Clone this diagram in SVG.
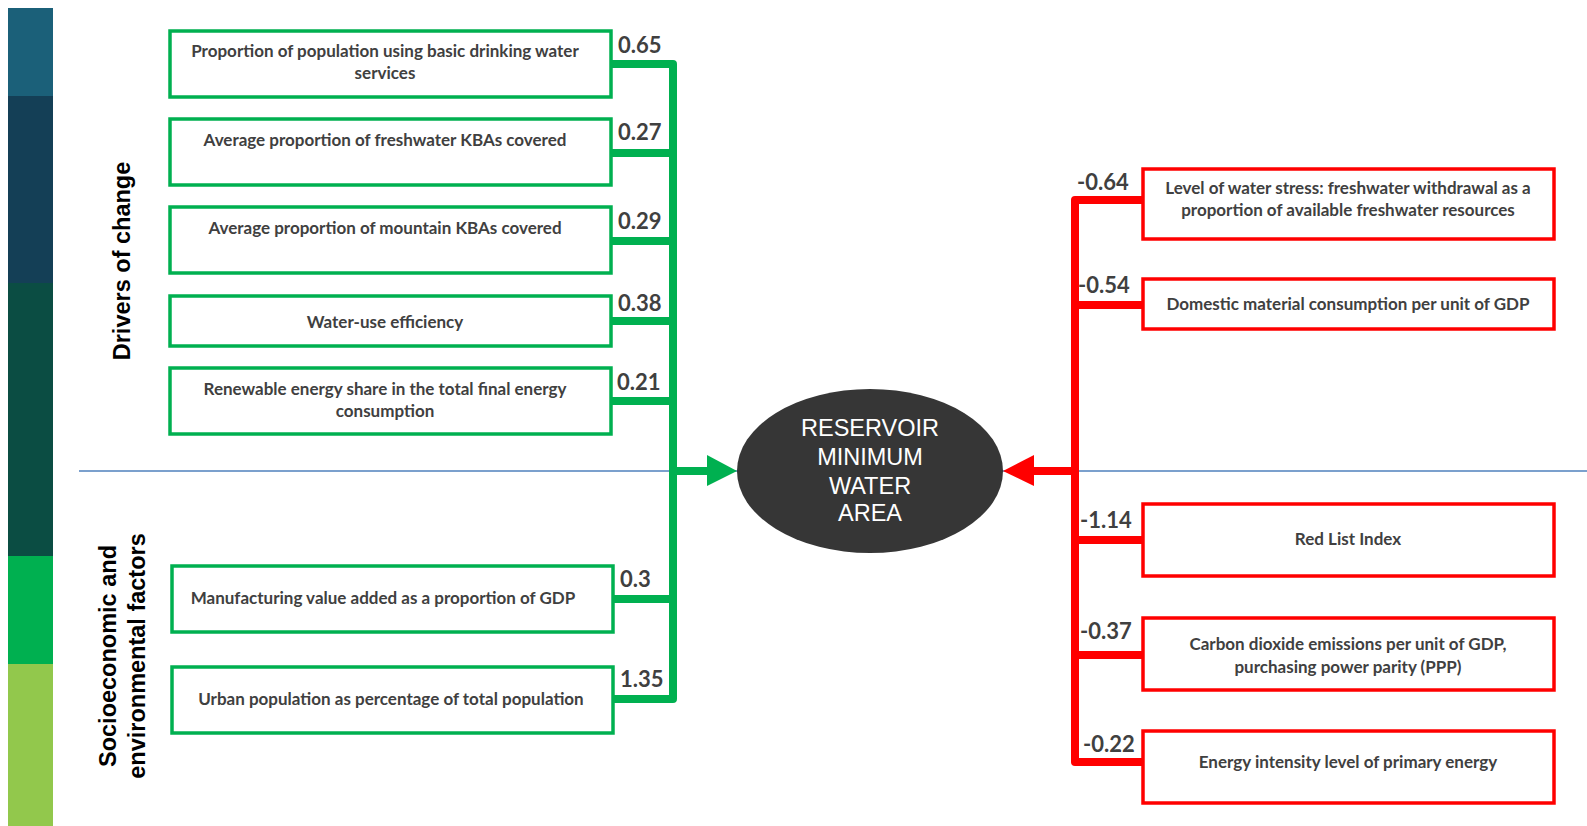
<svg xmlns="http://www.w3.org/2000/svg" width="1587" height="826" viewBox="0 0 1587 826">
<style>
.gbox{fill:#fff;stroke:#00b050;stroke-width:3.5}
.rbox{fill:#fff;stroke:#ff0000;stroke-width:3.5}
.t{font-family:Lato,"Liberation Sans",sans-serif;font-weight:bold;font-size:17px;fill:#404040;text-anchor:middle}
.n{font-family:Lato,"Liberation Sans",sans-serif;font-weight:bold;font-size:22px;fill:#404040}
.side{font-family:"Liberation Sans",Arial,sans-serif;font-weight:bold;font-size:23.5px;fill:#000}
.gc{fill:none;stroke:#00b050;stroke-width:8;stroke-linejoin:round}
.rc{fill:none;stroke:#ff0000;stroke-width:8;stroke-linejoin:round}
.ct{font-family:"Liberation Sans",Arial,sans-serif;font-size:23.5px;fill:#fff;text-anchor:middle}
</style>
<rect width="1587" height="826" fill="#fff"/>
<g id="sidebar">
<rect x="8" y="8" width="45" height="89" fill="#1b6079"/>
<rect x="8" y="96" width="45" height="188" fill="#143f56"/>
<rect x="8" y="283" width="45" height="274" fill="#0b4d43"/>
<rect x="8" y="556" width="45" height="109" fill="#00b050"/>
<rect x="8" y="664" width="45" height="162" fill="#92c84c"/>
</g>
<g id="labels">
<text class="side" transform="translate(130,261) rotate(-90)" text-anchor="middle">Drivers of change</text>
<text class="side" transform="translate(116,656) rotate(-90)" text-anchor="middle">Socioeconomic and</text>
<text class="side" transform="translate(145,656) rotate(-90)" text-anchor="middle">environmental factors</text>
</g>
<line x1="79" y1="471" x2="1587" y2="471" stroke="#4f81bd" stroke-width="1.5"/>
<g id="connectors">
<path class="gc" d="M611,64 H673 V699 H613"/>
<path class="gc" d="M611,153 H673 M611,241 H673 M611,321 H673 M611,401 H673 M613,599 H673 M673,471 H710"/>
<polygon points="707,455 737,471 707,486" fill="#00b050"/>
<path class="rc" d="M1143,200 H1075 V762 H1143"/>
<path class="rc" d="M1143,305 H1075 M1143,540 H1075 M1143,655 H1075 M1075,471 H1030"/>
<polygon points="1034,455 1003,471 1034,486" fill="#ff0000"/>
<text class="n" x="618" y="53">0.65</text>
<text class="n" x="618" y="140">0.27</text>
<text class="n" x="618" y="229">0.29</text>
<text class="n" x="618" y="311">0.38</text>
<text class="n" x="617" y="390">0.21</text>
<text class="n" x="620" y="587">0.3</text>
<text class="n" x="620" y="687">1.35</text>
<text class="n" x="1077" y="190">-0.64</text>
<text class="n" x="1078" y="293">-0.54</text>
<text class="n" x="1080" y="528">-1.14</text>
<text class="n" x="1080" y="639">-0.37</text>
<text class="n" x="1083" y="752">-0.22</text>
</g>
<g id="center">
<ellipse cx="870" cy="471" rx="133" ry="82" fill="#363636"/>
<text class="ct" x="870" y="436">RESERVOIR</text>
<text class="ct" x="870" y="465">MINIMUM</text>
<text class="ct" x="870" y="494">WATER</text>
<text class="ct" x="870" y="521">AREA</text>
</g>
<g id="g1"><rect class="gbox" x="170" y="31" width="441" height="66"/><text class="t" x="385" y="57">Proportion of population using basic drinking water</text><text class="t" x="385" y="79">services</text></g>
<g id="g2"><rect class="gbox" x="170" y="119" width="441" height="66"/><text class="t" x="385" y="146">Average proportion of freshwater KBAs covered</text></g>
<g id="g3"><rect class="gbox" x="170" y="207" width="441" height="66"/><text class="t" x="385" y="234">Average proportion of mountain KBAs covered</text></g>
<g id="g4"><rect class="gbox" x="170" y="296" width="441" height="50"/><text class="t" x="385" y="328">Water-use efficiency</text></g>
<g id="g5"><rect class="gbox" x="170" y="368" width="441" height="66"/><text class="t" x="385" y="395">Renewable energy share in the total final energy</text><text class="t" x="385" y="417">consumption</text></g>
<g id="g6"><rect class="gbox" x="172" y="566" width="441" height="66"/><text class="t" x="383" y="604">Manufacturing value added as a proportion of GDP</text></g>
<g id="g7"><rect class="gbox" x="172" y="667" width="441" height="66"/><text class="t" x="391" y="705">Urban population as percentage of total population</text></g>
<g id="r1"><rect class="rbox" x="1143" y="169" width="411" height="70"/><text class="t" x="1348" y="194">Level of water stress: freshwater withdrawal as a</text><text class="t" x="1348" y="216">proportion of available freshwater resources</text></g>
<g id="r2"><rect class="rbox" x="1143" y="279" width="411" height="50"/><text class="t" x="1348" y="310">Domestic material consumption per unit of GDP</text></g>
<g id="r3"><rect class="rbox" x="1143" y="504" width="411" height="72"/><text class="t" x="1348" y="545">Red List Index</text></g>
<g id="r4"><rect class="rbox" x="1143" y="618" width="411" height="72"/><text class="t" x="1348" y="650">Carbon dioxide emissions per unit of GDP,</text><text class="t" x="1348" y="673">purchasing power parity (PPP)</text></g>
<g id="r5"><rect class="rbox" x="1143" y="731" width="411" height="72"/><text class="t" x="1348" y="768">Energy intensity level of primary energy</text></g>
</svg>
